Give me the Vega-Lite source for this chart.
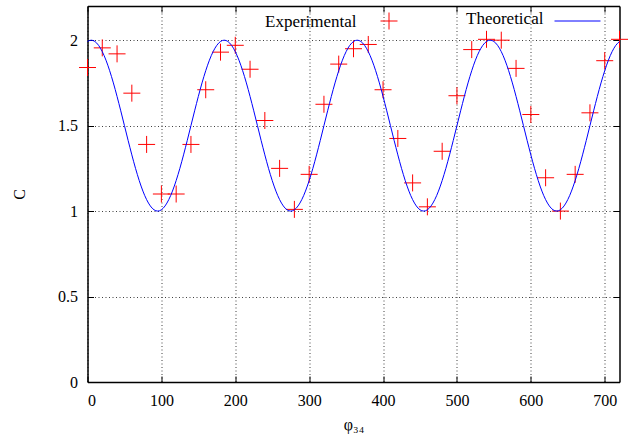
{
  "$schema": "https://vega.github.io/schema/vega-lite/v6.json",
  "autosize": "none",
  "width": 532,
  "height": 376,
  "padding": {"left": 87.5, "top": 6, "right": 15.5, "bottom": 53},
  "background": "white",
  "config": {
    "view": {"stroke": null},
    "font": "Liberation Serif",
    "axis": {
      "labelFont": "Liberation Serif",
      "titleFont": "Liberation Serif",
      "labelFontSize": 16,
      "titleFontSize": 16,
      "titleFontWeight": "normal",
      "labelColor": "#000",
      "titleColor": "#000",
      "domain": true,
      "domainColor": "#000",
      "domainWidth": 1.5,
      "domainOpacity": 1,
      "ticks": true,
      "tickColor": "#000",
      "tickSize": -6,
      "labelPadding": 16,
      "gridColor": "#000",
      "gridDash": [1, 2.5],
      "gridWidth": 1,
      "gridOpacity": 0.75
    },
    "legend": {
      "titleFont": "Liberation Serif",
      "titleFontSize": 17,
      "titleFontWeight": "normal",
      "titleColor": "#000",
      "titleOrient": "left",
      "titleAnchor": "middle",
      "titleBaseline": "middle",
      "labelOffset": 0,
      "labelFontSize": 1,
      "labelOpacity": 0,
      "padding": 0
    }
  },
  "datasets": {
    "exp": [
      {"phi": 0, "C": 1.84}, {"phi": 20, "C": 1.955}, {"phi": 40, "C": 1.92}, {"phi": 60, "C": 1.69},
      {"phi": 80, "C": 1.39}, {"phi": 100, "C": 1.10}, {"phi": 120, "C": 1.10}, {"phi": 140, "C": 1.39},
      {"phi": 160, "C": 1.71}, {"phi": 180, "C": 1.93}, {"phi": 200, "C": 1.97}, {"phi": 220, "C": 1.83},
      {"phi": 240, "C": 1.53}, {"phi": 260, "C": 1.25}, {"phi": 280, "C": 1.01}, {"phi": 300, "C": 1.215},
      {"phi": 320, "C": 1.625}, {"phi": 340, "C": 1.86}, {"phi": 360, "C": 1.95}, {"phi": 380, "C": 1.975},
      {"phi": 400, "C": 1.71}, {"phi": 420, "C": 1.425}, {"phi": 440, "C": 1.165}, {"phi": 460, "C": 1.025},
      {"phi": 480, "C": 1.35}, {"phi": 500, "C": 1.675}, {"phi": 520, "C": 1.945}, {"phi": 540, "C": 2.005},
      {"phi": 560, "C": 2.0}, {"phi": 580, "C": 1.835}, {"phi": 600, "C": 1.565}, {"phi": 620, "C": 1.195},
      {"phi": 640, "C": 1.0}, {"phi": 660, "C": 1.215}, {"phi": 680, "C": 1.575}, {"phi": 700, "C": 1.88},
      {"phi": 720, "C": 2.005}
    ],
    "theory": [
      {"phi": 0, "C": 1.9924},
      {"phi": 5, "C": 2}, {"phi": 10, "C": 1.9924}, {"phi": 15, "C": 1.9698}, {"phi": 20, "C": 1.933}, {"phi": 25, "C": 1.883}, {"phi": 30, "C": 1.8214}, {"phi": 35, "C": 1.75}, {"phi": 40, "C": 1.671}, {"phi": 45, "C": 1.5868}, {"phi": 50, "C": 1.5}, {"phi": 55, "C": 1.4132}, {"phi": 60, "C": 1.329}, {"phi": 65, "C": 1.25}, {"phi": 70, "C": 1.1786}, {"phi": 75, "C": 1.117}, {"phi": 80, "C": 1.067}, {"phi": 85, "C": 1.0302}, {"phi": 90, "C": 1.0076}, {"phi": 95, "C": 1}, {"phi": 100, "C": 1.0076}, {"phi": 105, "C": 1.0302}, {"phi": 110, "C": 1.067}, {"phi": 115, "C": 1.117}, {"phi": 120, "C": 1.1786}, {"phi": 125, "C": 1.25}, {"phi": 130, "C": 1.329}, {"phi": 135, "C": 1.4132}, {"phi": 140, "C": 1.5}, {"phi": 145, "C": 1.5868}, {"phi": 150, "C": 1.671}, {"phi": 155, "C": 1.75}, {"phi": 160, "C": 1.8214}, {"phi": 165, "C": 1.883}, {"phi": 170, "C": 1.933}, {"phi": 175, "C": 1.9698}, {"phi": 180, "C": 1.9924},
      {"phi": 185, "C": 2}, {"phi": 190, "C": 1.9924}, {"phi": 195, "C": 1.9698}, {"phi": 200, "C": 1.933}, {"phi": 205, "C": 1.883}, {"phi": 210, "C": 1.8214}, {"phi": 215, "C": 1.75}, {"phi": 220, "C": 1.671}, {"phi": 225, "C": 1.5868}, {"phi": 230, "C": 1.5}, {"phi": 235, "C": 1.4132}, {"phi": 240, "C": 1.329}, {"phi": 245, "C": 1.25}, {"phi": 250, "C": 1.1786}, {"phi": 255, "C": 1.117}, {"phi": 260, "C": 1.067}, {"phi": 265, "C": 1.0302}, {"phi": 270, "C": 1.0076}, {"phi": 275, "C": 1}, {"phi": 280, "C": 1.0076}, {"phi": 285, "C": 1.0302}, {"phi": 290, "C": 1.067}, {"phi": 295, "C": 1.117}, {"phi": 300, "C": 1.1786}, {"phi": 305, "C": 1.25}, {"phi": 310, "C": 1.329}, {"phi": 315, "C": 1.4132}, {"phi": 320, "C": 1.5}, {"phi": 325, "C": 1.5868}, {"phi": 330, "C": 1.671}, {"phi": 335, "C": 1.75}, {"phi": 340, "C": 1.8214}, {"phi": 345, "C": 1.883}, {"phi": 350, "C": 1.933}, {"phi": 355, "C": 1.9698}, {"phi": 360, "C": 1.9924},
      {"phi": 365, "C": 2}, {"phi": 370, "C": 1.9924}, {"phi": 375, "C": 1.9698}, {"phi": 380, "C": 1.933}, {"phi": 385, "C": 1.883}, {"phi": 390, "C": 1.8214}, {"phi": 395, "C": 1.75}, {"phi": 400, "C": 1.671}, {"phi": 405, "C": 1.5868}, {"phi": 410, "C": 1.5}, {"phi": 415, "C": 1.4132}, {"phi": 420, "C": 1.329}, {"phi": 425, "C": 1.25}, {"phi": 430, "C": 1.1786}, {"phi": 435, "C": 1.117}, {"phi": 440, "C": 1.067}, {"phi": 445, "C": 1.0302}, {"phi": 450, "C": 1.0076}, {"phi": 455, "C": 1}, {"phi": 460, "C": 1.0076}, {"phi": 465, "C": 1.0302}, {"phi": 470, "C": 1.067}, {"phi": 475, "C": 1.117}, {"phi": 480, "C": 1.1786}, {"phi": 485, "C": 1.25}, {"phi": 490, "C": 1.329}, {"phi": 495, "C": 1.4132}, {"phi": 500, "C": 1.5}, {"phi": 505, "C": 1.5868}, {"phi": 510, "C": 1.671}, {"phi": 515, "C": 1.75}, {"phi": 520, "C": 1.8214}, {"phi": 525, "C": 1.883}, {"phi": 530, "C": 1.933}, {"phi": 535, "C": 1.9698}, {"phi": 540, "C": 1.9924},
      {"phi": 545, "C": 2}, {"phi": 550, "C": 1.9924}, {"phi": 555, "C": 1.9698}, {"phi": 560, "C": 1.933}, {"phi": 565, "C": 1.883}, {"phi": 570, "C": 1.8214}, {"phi": 575, "C": 1.75}, {"phi": 580, "C": 1.671}, {"phi": 585, "C": 1.5868}, {"phi": 590, "C": 1.5}, {"phi": 595, "C": 1.4132}, {"phi": 600, "C": 1.329}, {"phi": 605, "C": 1.25}, {"phi": 610, "C": 1.1786}, {"phi": 615, "C": 1.117}, {"phi": 620, "C": 1.067}, {"phi": 625, "C": 1.0302}, {"phi": 630, "C": 1.0076}, {"phi": 635, "C": 1}, {"phi": 640, "C": 1.0076}, {"phi": 645, "C": 1.0302}, {"phi": 650, "C": 1.067}, {"phi": 655, "C": 1.117}, {"phi": 660, "C": 1.1786}, {"phi": 665, "C": 1.25}, {"phi": 670, "C": 1.329}, {"phi": 675, "C": 1.4132}, {"phi": 680, "C": 1.5}, {"phi": 685, "C": 1.5868}, {"phi": 690, "C": 1.671}, {"phi": 695, "C": 1.75}, {"phi": 700, "C": 1.8214}, {"phi": 705, "C": 1.883}, {"phi": 710, "C": 1.933}, {"phi": 715, "C": 1.9698}, {"phi": 720, "C": 1.9924}
    ]
  },
  "layer": [
    {
      "data": {"name": "exp"},
      "transform": [{"calculate": "'Experimental'", "as": "series"}],
      "mark": {"type": "point", "filled": false, "stroke": "#ff0000", "strokeWidth": 1, "size": 289, "opacity": 1},
      "encoding": {
        "x": {
          "field": "phi", "type": "quantitative",
          "scale": {"domain": [0, 720], "nice": false, "zero": false},
          "axis": {"orient": "bottom", "values": [0, 100, 200, 300, 400, 500, 600, 700], "grid": true, "domain": true, "title": "φ₃₄", "titlePadding": 8}
        },
        "y": {
          "field": "C", "type": "quantitative",
          "scale": {"domain": [0, 2.2], "nice": false, "zero": false},
          "axis": {"orient": "left", "values": [0, 0.5, 1, 1.5, 2], "format": ".2~f", "grid": true, "domain": true, "title": "C", "titlePadding": 30}
        },
        "shape": {
          "field": "series", "type": "nominal",
          "scale": {"domain": ["Experimental"], "range": ["M-1,0H1M0,-1V1"]},
          "legend": {"orient": "none", "legendX": 177.5, "legendY": 6, "title": "Experimental", "titlePadding": 23, "labelExpr": "''", "symbolStrokeColor": "#ff0000", "symbolStrokeWidth": 1, "symbolSize": 289, "symbolFillColor": "transparent"}
        }
      }
    },
    {
      "data": {"name": "theory"},
      "transform": [{"calculate": "'Theoretical'", "as": "series"}],
      "mark": {"type": "line", "strokeWidth": 1, "interpolate": "monotone"},
      "encoding": {
        "x": {
          "field": "phi", "type": "quantitative",
          "scale": {"domain": [0, 720], "nice": false, "zero": false},
          "axis": {"orient": "top", "values": [0, 100, 200, 300, 400, 500, 600, 700], "grid": false, "labels": false, "domain": true, "title": null}
        },
        "y": {
          "field": "C", "type": "quantitative",
          "scale": {"domain": [0, 2.2], "nice": false, "zero": false},
          "axis": {"orient": "right", "values": [0, 0.5, 1, 1.5, 2], "grid": false, "labels": false, "domain": true, "title": null}
        },
        "stroke": {
          "field": "series", "type": "nominal",
          "scale": {"domain": ["Theoretical"], "range": ["#0000ff"]},
          "legend": {"orient": "none", "legendX": 378.5, "legendY": -8.5, "title": "Theoretical", "titlePadding": 10, "titleBaseline": "top", "labelExpr": "''", "symbolType": "stroke", "symbolSize": 2116, "symbolStrokeWidth": 1}
        }
      }
    }
  ],
  "resolve": {"axis": {"x": "independent", "y": "independent"}, "legend": {"shape": "independent", "stroke": "independent"}}
}
